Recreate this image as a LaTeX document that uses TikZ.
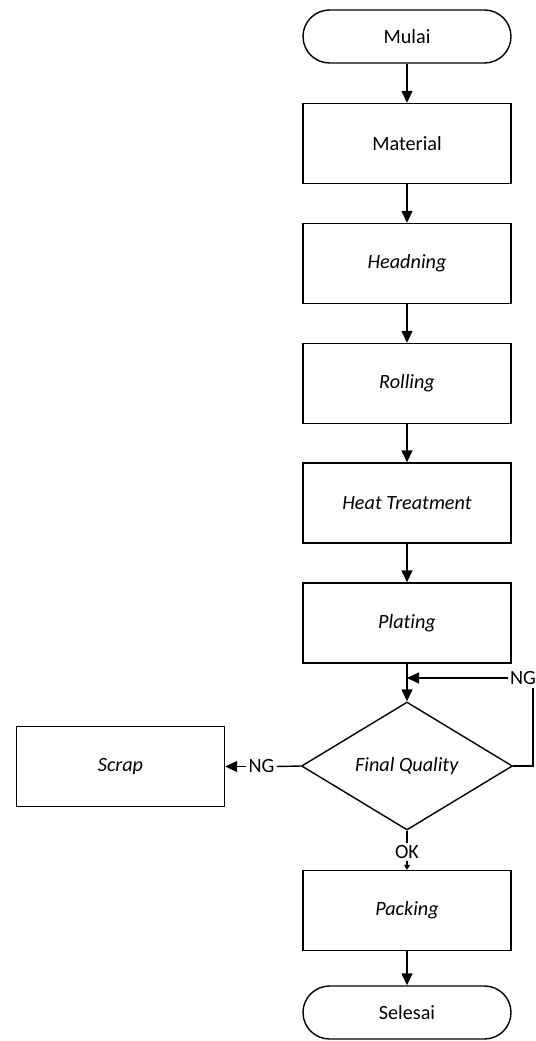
\documentclass[tikz,border=0pt]{standalone}
\usepackage{fontspec}
\setmainfont{Carlito}[Ligatures={NoCommon,NoContextual}]
\usetikzlibrary{shapes.geometric,arrows.meta}
\begin{document}
\begin{tikzpicture}[
    font=\fontsize{11.5}{14}\selectfont,
    proses/.style={draw,line width=0.8pt,minimum width=4.16cm,minimum height=1.6cm,inner sep=0pt},
    ujung/.style={draw,line width=0.8pt,rounded corners=0.53cm,minimum width=4.16cm,minimum height=1.06cm},
    keputusan/.style={draw,line width=0.8pt,diamond,minimum width=4.22cm,minimum height=2.56cm,inner sep=0pt},
    teks/.style={inner sep=1pt},
    garis/.style={line width=0.8pt},
    panah/.style={line width=0.8pt,-{Triangle[length=0.24cm,width=0.22cm]}},
    panahkecil/.style={line width=0.8pt,-{Triangle[length=0.1cm,width=0.12cm]}}
]
\useasboundingbox (0,0) rectangle (10.72,-20.82);
\node[ujung] (mulai) at (8.14,-0.73) {Mulai};
\node[proses] (material) at (8.14,-2.87) {Material};
\node[proses] (headning) at (8.14,-5.27) {\textit{Headning}};
\node[proses] (rolling) at (8.14,-7.67) {\textit{Rolling}};
\node[proses] (heat) at (8.14,-10.06) {\textit{Heat Treatment}};
\node[proses] (plating) at (8.14,-12.46) {\textit{Plating}};
\node[keputusan] (final) at (8.14,-15.32) {\textit{Final Quality}};
\node[proses] (scrap) at (2.41,-15.33) {\textit{Scrap}};
\node[proses] (packing) at (8.14,-18.21) {\textit{Packing}};
\node[ujung] (selesai) at (8.14,-20.25) {Selesai};
% label NG / OK
\node[teks] (ngkanan) at (10.46,-13.56) {NG};
\coordinate (belok) at (10.66,-13.76);
\node[teks] (ngkiri) at (5.23,-15.33) {NG};
\node[teks] (ok) at (8.14,-17.04) {OK};

\draw[panah] (mulai) -- (material);
\draw[panah] (material) -- (headning);
\draw[panah] (headning) -- (rolling);
\draw[panah] (rolling) -- (heat);
\draw[panah] (heat) -- (plating);
\draw[panah] (plating) -- (final);
\draw[garis] (final.east) -| (belok);
\draw[panah] (ngkanan.west) -- (ngkanan.west -| plating.south);
\draw[garis] (final.west) -- (ngkiri.east);
\draw[panah] (ngkiri.west) -- (scrap.east);
\draw[garis] (final.south) -- (ok.north);
\draw[panahkecil] (ok.south) -- (packing.north);
\draw[panah] (packing) -- (selesai);
\end{tikzpicture}
\end{document}
